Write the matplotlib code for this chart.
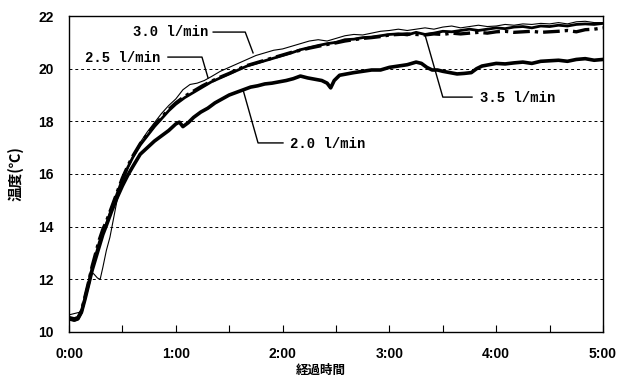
import numpy as np
import matplotlib.pyplot as plt
from matplotlib.ticker import MultipleLocator, FuncFormatter

plt.rcParams['font.family'] = ['Liberation Sans', 'Noto Sans CJK JP', 'DejaVu Sans']

# 経過時間 [min] と温度 [℃]
t20 = [0, 3, 5, 7, 9, 11, 13, 15, 17, 19, 21, 24, 27, 30, 33, 36, 40, 44, 48, 52, 56, 60, 62, 64, 67,
       70, 74, 78, 82, 86, 90, 94, 98, 102, 106, 110, 114, 118, 122, 126, 130, 134, 138, 142, 145, 147,
       149, 152, 156, 160, 165, 170, 175, 180, 185, 190, 195, 198, 201, 204, 207, 210, 214, 218, 222,
       226, 229, 232, 236, 240, 245, 250, 255, 260, 265, 270, 275, 280, 285, 290, 295, 300]
v20 = [10.5, 10.45, 10.5, 10.75, 11.25, 11.8, 12.35, 12.8, 13.25, 13.7, 14.05, 14.6, 15.1, 15.55, 15.95,
       16.3, 16.75, 17.0, 17.25, 17.45, 17.65, 17.9, 17.97, 17.8, 17.95, 18.15, 18.35, 18.5, 18.7, 18.85,
       19.0, 19.1, 19.2, 19.3, 19.35, 19.42, 19.45, 19.5, 19.55, 19.62, 19.72, 19.65, 19.6, 19.55, 19.45,
       19.27, 19.55, 19.75, 19.8, 19.85, 19.9, 19.95, 19.95, 20.05, 20.1, 20.15, 20.25, 20.2, 20.05, 19.95,
       19.95, 19.9, 19.85, 19.8, 19.82, 19.85, 20.0, 20.1, 20.15, 20.2, 20.18, 20.22, 20.25, 20.2, 20.28,
       20.3, 20.32, 20.28, 20.35, 20.38, 20.32, 20.35]

t25 = [0, 3, 5, 7, 9, 11, 13, 15, 17, 19, 21, 24, 27, 30, 33, 36, 40, 44, 48, 52, 56, 60, 65, 70, 75,
       80, 85, 90, 95, 100, 105, 110, 115, 120, 125, 130, 135, 140, 145, 150, 155, 160, 165, 170, 175,
       180, 185, 190, 195, 200, 205, 210, 215, 220, 225, 230, 235, 240, 245, 250, 255, 260, 265, 270,
       275, 280, 285, 290, 295, 300]
v25 = [10.5, 10.45, 10.5, 10.75, 11.3, 11.8, 12.4, 12.9, 13.4, 13.8, 14.1, 14.7, 15.25, 15.8, 16.25,
       16.65, 17.1, 17.45, 17.8, 18.1, 18.4, 18.65, 18.9, 19.1, 19.3, 19.5, 19.65, 19.8, 19.95, 20.1,
       20.2, 20.3, 20.4, 20.5, 20.6, 20.72, 20.8, 20.88, 20.95, 21.0, 21.1, 21.12, 21.18, 21.2, 21.25,
       21.3, 21.32, 21.28, 21.38, 21.3, 21.35, 21.42, 21.4, 21.45, 21.5, 21.45, 21.5, 21.55, 21.52,
       21.58, 21.6, 21.55, 21.62, 21.6, 21.65, 21.62, 21.68, 21.7, 21.68, 21.72]

t30 = [0, 3, 6, 8, 10, 12, 14, 16, 17.5, 19, 21, 23, 25, 27, 30, 33, 36, 40, 44, 48, 52, 56, 60, 64,
       68, 72, 76, 80, 85, 90, 95, 100, 105, 110, 115, 120, 125, 130, 135, 140, 145, 150, 155, 160, 165,
       170, 175, 180, 185, 190, 195, 200, 205, 210, 215, 220, 225, 230, 235, 240, 245, 250, 255, 260,
       265, 270, 275, 280, 285, 290, 295, 300]
v30 = [10.65, 10.7, 10.75, 11.0, 11.6, 12.3, 12.2, 12.05, 12.0, 12.45, 13.1, 13.6, 14.3, 15.0, 15.6,
       16.2, 16.7, 17.2, 17.6, 17.95, 18.3, 18.6, 18.85, 19.2, 19.4, 19.45, 19.55, 19.7, 19.9, 20.05,
       20.2, 20.35, 20.5, 20.6, 20.7, 20.75, 20.85, 20.95, 21.05, 21.1, 21.05, 21.15, 21.25, 21.3, 21.28,
       21.35, 21.42, 21.45, 21.5, 21.45, 21.5, 21.55, 21.5, 21.58, 21.62, 21.55, 21.6, 21.65, 21.6,
       21.62, 21.68, 21.65, 21.7, 21.68, 21.72, 21.7, 21.75, 21.7, 21.78, 21.8, 21.75, 21.75]

t35 = t25
v35 = [10.55, 10.5, 10.55, 10.8, 11.35, 11.9, 12.5, 13.0, 13.5, 13.9, 14.2, 14.75, 15.3, 15.85, 16.3,
       16.7, 17.15, 17.5, 17.85, 18.15, 18.45, 18.7, 18.95, 19.15, 19.35, 19.52, 19.68, 19.82, 19.98,
       20.12, 20.22, 20.32, 20.42, 20.52, 20.62, 20.7, 20.78, 20.85, 20.92, 20.98, 21.05, 21.1, 21.15,
       21.18, 21.22, 21.28, 21.3, 21.32, 21.3, 21.28, 21.32, 21.3, 21.35, 21.32, 21.35, 21.38, 21.35,
       21.4, 21.42, 21.38, 21.4, 21.42, 21.38, 21.4, 21.42, 21.45, 21.4, 21.48, 21.5, 21.55]

fig = plt.figure(figsize=(6.29, 3.83), dpi=100)
ax = fig.add_axes([0.1097, 0.1332, 0.8490, 0.8250])

ax.plot(t30, v30, color='black', lw=0.8)
ax.plot(t35, v35, color='black', lw=2.4, ls=(0, (5, 1.5, 1, 1.5)))
ax.plot(t25, v25, color='black', lw=2.0)
ax.plot(t20, v20, color='black', lw=2.6)

ax.set_xlim(0, 300)
ax.set_ylim(10, 22)
ax.yaxis.set_major_locator(MultipleLocator(2))
ax.xaxis.set_major_locator(MultipleLocator(60))
ax.xaxis.set_minor_locator(MultipleLocator(30))
ax.xaxis.set_major_formatter(FuncFormatter(lambda v, p: '%d:%02d' % (v // 60, v % 60)))
ax.tick_params(axis='x', which='both', direction='in', length=5, width=0.8, pad=11)
ax.tick_params(axis='y', length=0, pad=11)
for lab in ax.get_xticklabels() + ax.get_yticklabels():
    lab.set_fontsize(10)
    lab.set_fontweight('bold')
for g in [12, 14, 16, 18, 20]:
    ax.axhline(g, color='black', lw=0.7, ls=(0, (3, 3)), zorder=0)
for s in ax.spines.values():
    s.set_linewidth(1.0)

ax.set_xlabel('経過時間', fontsize=9, fontweight='bold', family=['Noto Sans CJK JP'])
ax.xaxis.set_label_coords(0.472, -0.10)
ax.set_ylabel('温度(℃)', fontsize=10.5, fontweight='bold', family=['Noto Sans CJK JP'])
ax.yaxis.set_label_coords(-0.085, 0.5)

lkw = dict(color='black', lw=1.0)
tkw = dict(fontsize=10, fontweight='bold', family=['Liberation Mono'], va='center')
ax.plot([81, 99, 103.4], [21.39, 21.39, 20.6], **lkw)
ax.text(36, 21.39, '3.0 l/min', **tkw)
ax.plot([55.6, 74.7, 78.1], [20.44, 20.44, 19.65], **lkw)
ax.text(9, 20.42, '2.5 l/min', **tkw)
ax.plot([97.8, 106.2, 120.2], [19.19, 17.18, 17.18], **lkw)
ax.text(124, 17.15, '2.0 l/min', **tkw)
ax.plot([200, 210, 226.4], [21.28, 18.92, 18.92], **lkw)
ax.text(231, 18.88, '3.5 l/min', **tkw)

fig.savefig('out.png', dpi=100)
